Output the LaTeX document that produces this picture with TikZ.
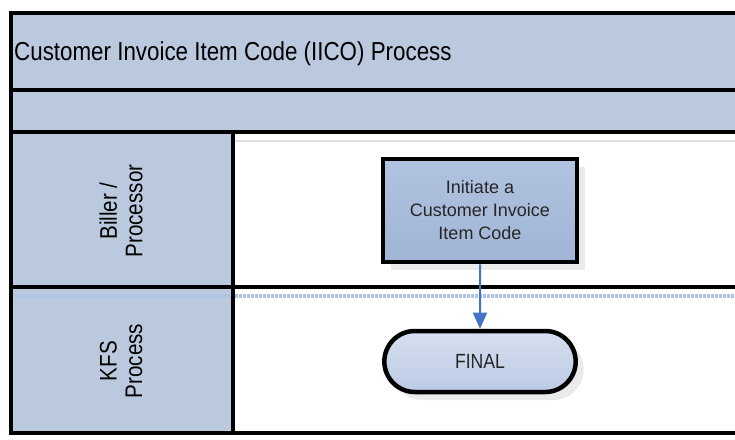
\documentclass[tikz,border=0pt]{standalone}
\usepackage{graphicx}
\usepackage{fontspec}
\setmainfont{Liberation Sans}
\usetikzlibrary{positioning}
\usetikzlibrary{shadows,shapes.misc}
\usetikzlibrary{arrows.meta}
\usetikzlibrary{calc}

\definecolor{bandblue}{RGB}{187,201,223}
\definecolor{taskblue}{RGB}{160,181,213}
\definecolor{tasklight}{RGB}{176,195,224}
\definecolor{termblue}{RGB}{188,202,228}
\definecolor{termlight}{RGB}{214,223,240}
\definecolor{flowblue}{RGB}{68,114,196}
\definecolor{seamblue}{RGB}{172,196,226}

% tall, narrow lettering as in the chart
\newcommand{\slim}[1]{\scalebox{0.86}[1]{#1}}

\begin{document}
\begin{tikzpicture}[x=1pt, y=-1pt,
  frameline/.style={line width=4.5pt, black},
  seamline/.style={line width=3.5pt, seamblue, dash pattern=on 3pt off 1pt},
  lanelabel/.style={rotate=90, align=center, font=\fontsize{24}{25.5}\selectfont},
  taskbox/.style={draw, line width=4.5pt, rectangle, minimum width=194pt, minimum height=103pt,
     align=center, top color=tasklight, bottom color=taskblue, text=black!85,
     font=\fontsize{18}{23}\selectfont,
     drop shadow={shadow xshift=8pt, shadow yshift=-8pt, fill=black!10, opacity=0.8}},
  termbox/.style={draw, line width=4.5pt, rounded rectangle, minimum width=198pt, minimum height=61pt,
     top color=termlight, bottom color=termblue, text=black!85,
     font=\fontsize{20.5}{21}\selectfont,
     drop shadow={shadow xshift=8pt, shadow yshift=-8pt, fill=black!10, opacity=0.8}},
  flowarrow/.style={-{Triangle[width=14pt, length=16pt]}, line width=2pt, flowblue}]

 % page
 \fill[white] (0,0) rectangle (735,439);
 \useasboundingbox (0,0) rectangle (735,439);

 \def\xl{11}
 \def\xr{745}
 \def\xc{233}

 %bands
 \fill[bandblue] (\xl,13) rectangle (\xr,132);
 \fill[bandblue] (\xl,132) rectangle (\xc,433);

 \node[anchor=west, font=\fontsize{26}{28}\selectfont, inner sep=0pt] (title) at (14,54) {\slim{Customer Invoice Item Code (IICO) Process}};

 %seams
 \draw[seamline] (\xl,296) -- (\xr,296);
 \draw[black!12, line width=1.5pt] (\xc,141) -- (\xr,141);

 %frame
 \foreach \y in {13,90,132,287,433} {
   \draw[frameline] (\xl-2.25,\y) -- (\xr,\y);
 }
 \draw[frameline] (\xl,13) -- (\xl,433);
 \draw[frameline] (\xc,132) -- (\xc,433);

 %lanes
 \node[lanelabel] (biller) at (121,211) {\slim{Biller /}\\\slim{Processor}};
 \node[lanelabel] (kfs) at (121,361) {\slim{KFS}\\\slim{Process}};

 %steps
 \node[taskbox] (initiate) at (480,210.5) {Initiate a\\Customer Invoice\\Item Code};
 \node[termbox] (final) at (480,361.5) {\slim{FINAL}};

 %arrow
 \draw[flowarrow] (initiate) -- (final);

\end{tikzpicture}
\end{document}
